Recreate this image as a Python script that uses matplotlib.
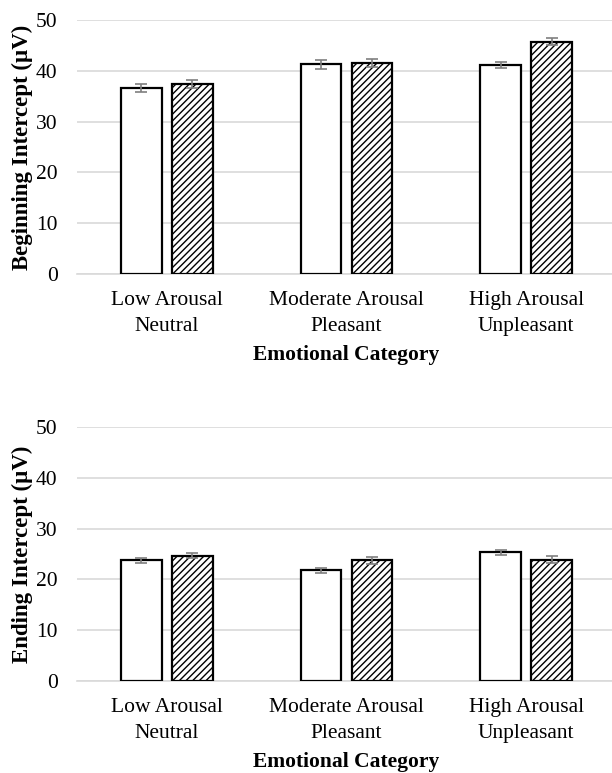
import numpy as np
import matplotlib
matplotlib.use("Agg")
import matplotlib.pyplot as plt

categories = ["Low Arousal\nNeutral", "Moderate Arousal\nPleasant", "High Arousal\nUnpleasant"]

begin_white = [36.7, 41.3, 41.1]
begin_white_err = [0.8, 0.9, 0.6]
begin_hatch = [37.4, 41.5, 45.7]
begin_hatch_err = [0.8, 0.8, 0.7]

end_white = [23.8, 21.8, 25.3]
end_white_err = [0.5, 0.5, 0.5]
end_hatch = [24.7, 23.8, 23.9]
end_hatch_err = [0.4, 0.7, 0.7]

yticks = [0, 10, 20, 30, 40, 50]

plt.rcParams['font.family'] = ['Liberation Serif', 'DejaVu Serif']
plt.rcParams['hatch.linewidth'] = 1.0

fig = plt.figure(figsize=(6.12, 7.73), dpi=100)
W, H = 612, 773


def panel(rect, white, white_err, hatch, hatch_err, ylabel):
    ax = fig.add_axes(rect)
    x = np.arange(len(categories))
    w = 0.228
    off = 0.142
    ekw = dict(ecolor="#7f7f7f", elinewidth=1.2, capsize=4, capthick=1.2)
    ax.bar(x - off, white, w, yerr=white_err, color="white", edgecolor="black",
           linewidth=1.6, error_kw=ekw, zorder=3)
    ax.bar(x + off, hatch, w, yerr=hatch_err, color="white", edgecolor="black",
           linewidth=1.6, hatch="/////", error_kw=ekw, zorder=3)
    ax.set_xlim(-0.5, 2.5)
    ax.set_ylim(0, 50)
    ax.set_yticks(yticks)
    ax.yaxis.grid(True, color="#d9d9d9", linewidth=1.2, zorder=0)
    ax.set_axisbelow(True)
    for s in ["top", "right", "left"]:
        ax.spines[s].set_visible(False)
    ax.spines["bottom"].set_color("#d9d9d9")
    ax.spines["bottom"].set_linewidth(1.2)
    ax.tick_params(length=0, labelsize=15.5)
    ax.tick_params(axis="y", pad=14)
    ax.tick_params(axis="x", pad=12)
    ax.set_xticks(x)
    ax.set_xticklabels(categories, linespacing=1.5)
    ax.set_xlabel("Emotional Category", fontsize=15.5, fontweight="bold", labelpad=7)
    ax.set_ylabel(ylabel, fontsize=16.5, fontweight="bold", labelpad=2)
    return ax


def rect(x0, y0, x1, y1):
    return [x0 / W, 1 - y1 / H, (x1 - x0) / W, (y1 - y0) / H]


panel(rect(77, 20, 616, 274), begin_white, begin_white_err, begin_hatch, begin_hatch_err,
      "Beginning Intercept (\u00b5V)")
panel(rect(77, 427, 616, 681), end_white, end_white_err, end_hatch, end_hatch_err,
      "Ending Intercept (\u00b5V)")

fig.savefig("out.png", dpi=100)
